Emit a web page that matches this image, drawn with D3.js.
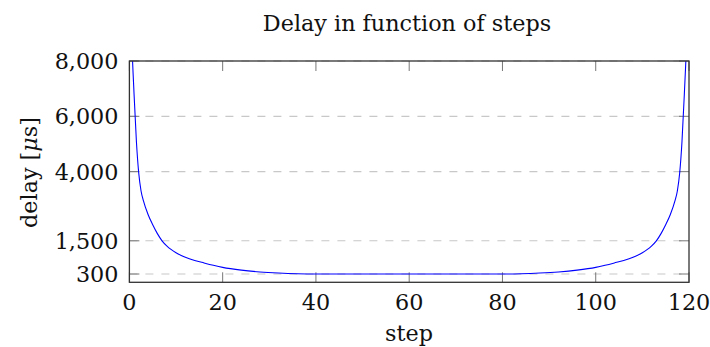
<!DOCTYPE html>
<html>
<head>
<meta charset="utf-8">
<script src="https://cdn.jsdelivr.net/npm/d3@7"></script>
<style>
  body { margin: 0; background: #fff; }
  text { font-family: "DejaVu Serif", serif; fill: #111; }
</style>
</head>
<body>
<svg id="chart" width="710" height="347"></svg>
<script>
// values
var steps = [0, 0.5, 1, 1.5, 2, 2.5, 3, 4, 5, 6, 7, 8, 9, 10, 11, 12, 14, 16, 18, 20, 24, 28, 32, 36, 40,
  80, 84, 88, 92, 96, 100, 102, 104, 106, 108, 109, 110, 111, 112, 113, 114, 115, 116, 117, 117.5, 118, 118.5, 119, 119.5, 120];
var delays = [12000, 8800, 6800, 5100, 3950, 3300, 2950, 2450, 2080, 1760, 1500, 1320, 1180, 1070, 980, 905, 790, 700, 615, 540, 440, 375, 335, 310, 300,
  300, 310, 335, 375, 440, 540, 615, 700, 790, 905, 980, 1070, 1180, 1320, 1500, 1760, 2080, 2450, 2950, 3300, 3950, 5100, 6800, 8800, 12000];
var xTicks = [0, 20, 40, 60, 80, 100, 120];
var yTicks = [300, 1500, 4000, 6000, 8000];

var svg = d3.select("#chart");
var fs = 22.3;
var pLeft = 129.4, pRight = 689, pTop = 61, pBottom = 282.3;

var x = d3.scaleLinear().domain([0, 120]).range([pLeft, pRight]);
var y = d3.scaleLinear().domain([0, 8000]).range([pBottom, pTop]);

var data = steps.map(function (s, i) {
  return { step: s, delay: delays[i] };
});

svg.append("clipPath").attr("id", "plot")
  .append("rect")
  .attr("x", pLeft).attr("y", pTop)
  .attr("width", pRight - pLeft).attr("height", pBottom - pTop);

// dashed grid
svg.append("g")
  .selectAll("line")
  .data(yTicks)
  .enter()
  .append("line")
  .attr("x1", pLeft).attr("x2", pRight)
  .attr("y1", function (d) { return y(d); })
  .attr("y2", function (d) { return y(d); })
  .attr("stroke", "#c8c8c8")
  .attr("stroke-width", 1.1)
  .attr("stroke-dasharray", "8,8");

// inner ticks on all four sides
var tl = 10;
var ticks = svg.append("g").attr("stroke", "#777").attr("stroke-width", 1);
xTicks.forEach(function (t) {
  ticks.append("line").attr("x1", x(t)).attr("x2", x(t)).attr("y1", pBottom).attr("y2", pBottom - tl);
  ticks.append("line").attr("x1", x(t)).attr("x2", x(t)).attr("y1", pTop).attr("y2", pTop + tl);
});
yTicks.forEach(function (t) {
  ticks.append("line").attr("x1", pLeft).attr("x2", pLeft + tl).attr("y1", y(t)).attr("y2", y(t));
  ticks.append("line").attr("x1", pRight).attr("x2", pRight - tl).attr("y1", y(t)).attr("y2", y(t));
});

// curve
var line = d3.line()
  .x(function (d) { return x(d.step); })
  .y(function (d) { return y(d.delay); })
  .curve(d3.curveMonotoneX);

svg.append("path")
  .datum(data)
  .attr("clip-path", "url(#plot)")
  .attr("d", line)
  .attr("fill", "none")
  .attr("stroke", "#0000ff")
  .attr("stroke-width", 1.1);

// frame
svg.append("rect")
  .attr("x", pLeft).attr("y", pTop)
  .attr("width", pRight - pLeft).attr("height", pBottom - pTop)
  .attr("fill", "none")
  .attr("stroke", "#333")
  .attr("stroke-width", 1.3);

// tick labels
var fmt = d3.format(",");
svg.append("g")
  .selectAll("text")
  .data(xTicks)
  .enter()
  .append("text")
  .attr("x", function (d) { return x(d); })
  .attr("y", 309.5)
  .attr("text-anchor", "middle")
  .attr("font-size", fs)
  .text(function (d) { return d; });

svg.append("g")
  .selectAll("text")
  .data(yTicks)
  .enter()
  .append("text")
  .attr("x", 118.5)
  .attr("y", function (d) { return y(d) + 0.36 * fs; })
  .attr("text-anchor", "end")
  .attr("font-size", fs)
  .text(function (d) { return fmt(d); });

// titles
svg.append("text")
  .attr("x", 407).attr("y", 31)
  .attr("text-anchor", "middle")
  .attr("font-size", fs)
  .text("Delay in function of steps");

svg.append("text")
  .attr("x", 409).attr("y", 341)
  .attr("text-anchor", "middle")
  .attr("font-size", fs)
  .text("step");

var yl = svg.append("text")
  .attr("transform", "translate(36.5,172.5) rotate(-90)")
  .attr("text-anchor", "middle")
  .attr("font-size", fs);
yl.append("tspan").text("delay [");
yl.append("tspan").attr("font-style", "italic").text("μ");
yl.append("tspan").text("s]");
</script>
</body>
</html>
